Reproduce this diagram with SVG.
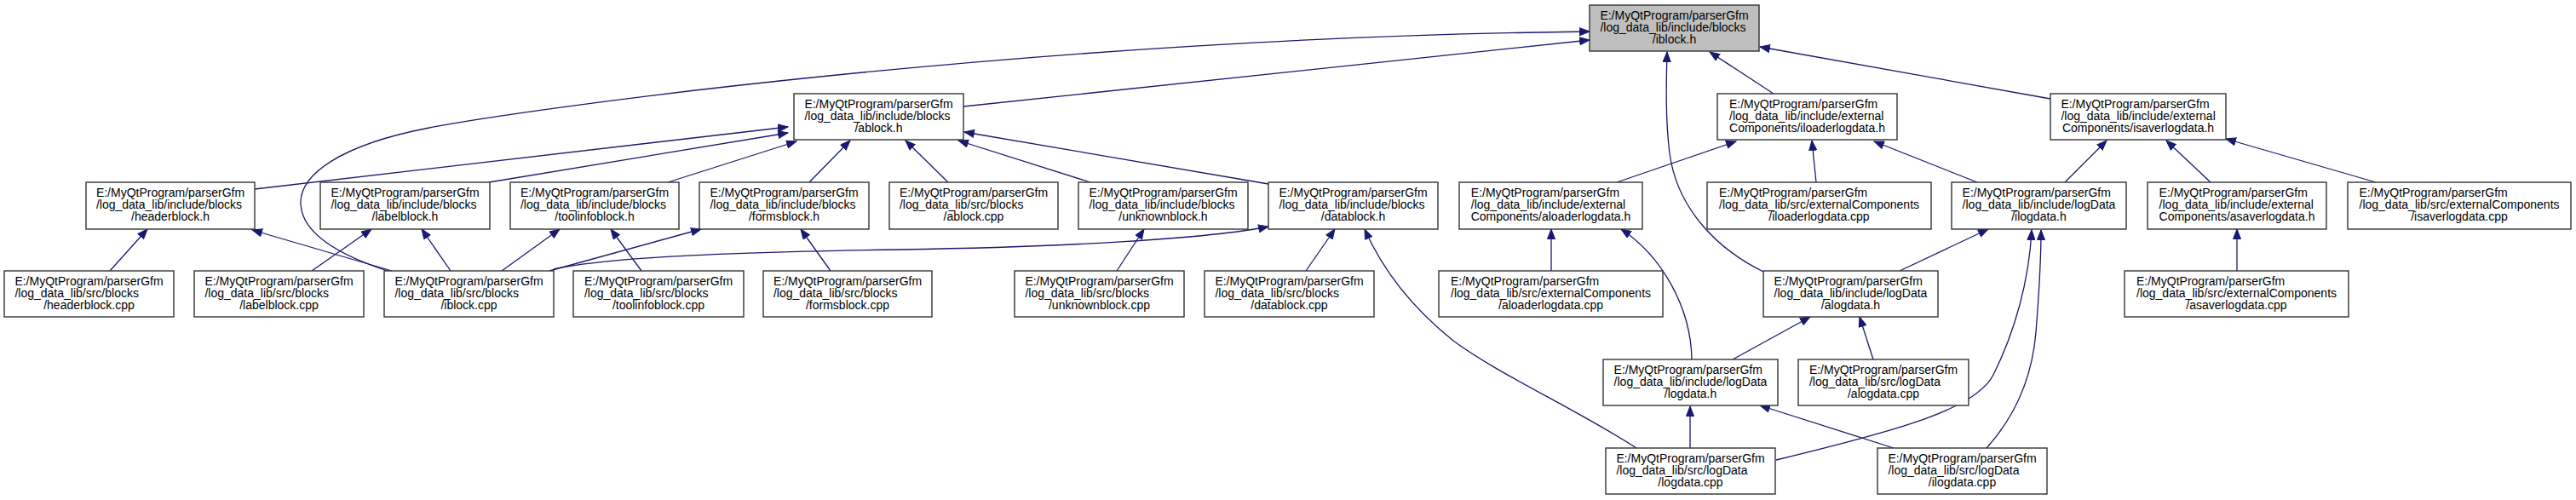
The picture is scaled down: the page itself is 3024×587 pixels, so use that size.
<svg xmlns="http://www.w3.org/2000/svg" width="3024" height="587" viewBox="0 0 3024 587">
<defs>
<style>
.n rect{fill:#ffffff;stroke:#333333;stroke-width:1.4}
.root rect{fill:#bfbfbf}
.n text{font-family:"Liberation Sans",Arial,sans-serif;font-size:14px;fill:#000000}
.c{text-anchor:middle}
#edges path{fill:none;stroke:#191970;stroke-width:1.3;marker-end:url(#ah)}
</style>
<marker id="ah" markerWidth="13" markerHeight="10" refX="12" refY="5" orient="auto" markerUnits="userSpaceOnUse"><path d="M0.5,0.5 L12,5 L0.5,9.5 z" fill="#191970" stroke="#191970" stroke-width="1"/></marker>
</defs>
<rect width="3024" height="587" fill="#ffffff"/>
<g id="edges">
<path d="M1131,125 L1866,47"/>
<path d="M455,318 C400,300 355,275 353,240 C351,205 400,170 504,150 C604,130 1200,45 1866,37"/>
<path d="M2082,110 L2007,61"/>
<path d="M2407,116 L2066,55"/>
<path d="M2072,320 C2010,290 1968,240 1960,180 C1955,140 1956,100 1957,61"/>
<path d="M645,318 L823,269"/>
<path d="M650,316 C700,305 800,297 1057,293 C1250,290 1420,280 1489,266"/>
<path d="M129,318 L173,269"/>
<path d="M460,318 L296,270"/>
<path d="M366,318 L436,269"/>
<path d="M529,318 L495,269"/>
<path d="M589,318 L657,269"/>
<path d="M753,318 L717,269"/>
<path d="M975,318 L940,269"/>
<path d="M1311,318 L1343,269"/>
<path d="M1533,318 L1567,269"/>
<path d="M1921,526 C1850,480 1760,440 1706,400 C1650,355 1620,310 1602,269"/>
<path d="M1489,216 L1132,155"/>
<path d="M1280,214 L1125,165"/>
<path d="M1113,214 L1063,165"/>
<path d="M950,214 L998,165"/>
<path d="M784,214 L935,166"/>
<path d="M574,214 L925,156"/>
<path d="M299,222 L925,149"/>
<path d="M1898,214 L2038,166"/>
<path d="M2132,214 L2127,165"/>
<path d="M2321,214 L2200,166"/>
<path d="M2424,214 L2473,165"/>
<path d="M2595,214 L2543,165"/>
<path d="M2789,214 L2613,163"/>
<path d="M1821,318 L1821,269"/>
<path d="M1986,422 C1985,360 1950,300 1903,269"/>
<path d="M2230,318 L2334,269"/>
<path d="M2085,540 C2230,505 2320,480 2340,440 C2365,390 2382,330 2385,270"/>
<path d="M2332,526 C2360,495 2385,450 2390,390 C2394,340 2396,300 2396,270"/>
<path d="M2034,422 L2125,372"/>
<path d="M2199,422 L2183,372"/>
<path d="M1984,526 L1984,477"/>
<path d="M2223,526 L2066,476"/>
<path d="M2626,318 L2626,269"/>
</g>
<g id="iblock_h" class="n root"><rect x="1866" y="6" width="199" height="54"/><text><tspan x="1878.4" y="22.5">E:/MyQtProgram/parserGfm</tspan><tspan x="1878.4" y="36.5">/log_data_lib/include/blocks</tspan><tspan class="c" x="1965.5" y="50.5">/iblock.h</tspan></text></g>
<g id="ablock_h" class="n"><rect x="932" y="110" width="199" height="54"/><text><tspan x="944.4" y="126.5">E:/MyQtProgram/parserGfm</tspan><tspan x="944.4" y="140.5">/log_data_lib/include/blocks</tspan><tspan class="c" x="1031.5" y="154.5">/ablock.h</tspan></text></g>
<g id="iloaderlogdata_h" class="n"><rect x="2016" y="110" width="211" height="54"/><text><tspan x="2030" y="126.5">E:/MyQtProgram/parserGfm</tspan><tspan x="2030" y="140.5">/log_data_lib/include/external</tspan><tspan class="c" x="2121.5" y="154.5">Components/iloaderlogdata.h</tspan></text></g>
<g id="isaverlogdata_h" class="n"><rect x="2407" y="110" width="206" height="54"/><text><tspan x="2419.4" y="126.5">E:/MyQtProgram/parserGfm</tspan><tspan x="2419.4" y="140.5">/log_data_lib/include/external</tspan><tspan class="c" x="2510" y="154.5">Components/isaverlogdata.h</tspan></text></g>
<g id="headerblock_h" class="n"><rect x="101" y="214" width="198" height="55"/><text><tspan x="112.9" y="230.5">E:/MyQtProgram/parserGfm</tspan><tspan x="112.9" y="244.5">/log_data_lib/include/blocks</tspan><tspan class="c" x="200" y="258.5">/headerblock.h</tspan></text></g>
<g id="labelblock_h" class="n"><rect x="376" y="214" width="199" height="55"/><text><tspan x="388.4" y="230.5">E:/MyQtProgram/parserGfm</tspan><tspan x="388.4" y="244.5">/log_data_lib/include/blocks</tspan><tspan class="c" x="475.5" y="258.5">/labelblock.h</tspan></text></g>
<g id="toolinfoblock_h" class="n"><rect x="599" y="214" width="198" height="55"/><text><tspan x="610.9" y="230.5">E:/MyQtProgram/parserGfm</tspan><tspan x="610.9" y="244.5">/log_data_lib/include/blocks</tspan><tspan class="c" x="698" y="258.5">/toolinfoblock.h</tspan></text></g>
<g id="formsblock_h" class="n"><rect x="821" y="214" width="199" height="55"/><text><tspan x="833.4" y="230.5">E:/MyQtProgram/parserGfm</tspan><tspan x="833.4" y="244.5">/log_data_lib/include/blocks</tspan><tspan class="c" x="920.5" y="258.5">/formsblock.h</tspan></text></g>
<g id="ablock_cpp" class="n"><rect x="1044" y="214" width="198" height="55"/><text><tspan x="1055.9" y="230.5">E:/MyQtProgram/parserGfm</tspan><tspan x="1055.9" y="244.5">/log_data_lib/src/blocks</tspan><tspan class="c" x="1143" y="258.5">/ablock.cpp</tspan></text></g>
<g id="unknownblock_h" class="n"><rect x="1266" y="214" width="199" height="55"/><text><tspan x="1278.4" y="230.5">E:/MyQtProgram/parserGfm</tspan><tspan x="1278.4" y="244.5">/log_data_lib/include/blocks</tspan><tspan class="c" x="1365.5" y="258.5">/unknownblock.h</tspan></text></g>
<g id="datablock_h" class="n"><rect x="1489" y="214" width="199" height="55"/><text><tspan x="1501.4" y="230.5">E:/MyQtProgram/parserGfm</tspan><tspan x="1501.4" y="244.5">/log_data_lib/include/blocks</tspan><tspan class="c" x="1588.5" y="258.5">/datablock.h</tspan></text></g>
<g id="aloaderlogdata_h" class="n"><rect x="1713" y="214" width="215" height="55"/><text><tspan x="1726.8" y="230.5">E:/MyQtProgram/parserGfm</tspan><tspan x="1726.8" y="244.5">/log_data_lib/include/external</tspan><tspan class="c" x="1820.5" y="258.5">Components/aloaderlogdata.h</tspan></text></g>
<g id="iloaderlogdata_cpp" class="n"><rect x="2004" y="214" width="263" height="55"/><text><tspan x="2018" y="230.5">E:/MyQtProgram/parserGfm</tspan><tspan x="2018" y="244.5">/log_data_lib/src/externalComponents</tspan><tspan class="c" x="2135.5" y="258.5">/iloaderlogdata.cpp</tspan></text></g>
<g id="ilogdata_h" class="n"><rect x="2291" y="214" width="205" height="55"/><text><tspan x="2303.6" y="230.5">E:/MyQtProgram/parserGfm</tspan><tspan x="2303.6" y="244.5">/log_data_lib/include/logData</tspan><tspan class="c" x="2393.5" y="258.5">/ilogdata.h</tspan></text></g>
<g id="asaverlogdata_h" class="n"><rect x="2521" y="214" width="210" height="55"/><text><tspan x="2534.6" y="230.5">E:/MyQtProgram/parserGfm</tspan><tspan x="2534.6" y="244.5">/log_data_lib/include/external</tspan><tspan class="c" x="2626" y="258.5">Components/asaverlogdata.h</tspan></text></g>
<g id="isaverlogdata_cpp" class="n"><rect x="2756" y="214" width="262" height="55"/><text><tspan x="2769.5" y="230.5">E:/MyQtProgram/parserGfm</tspan><tspan x="2769.5" y="244.5">/log_data_lib/src/externalComponents</tspan><tspan class="c" x="2887" y="258.5">/isaverlogdata.cpp</tspan></text></g>
<g id="headerblock_cpp" class="n"><rect x="5" y="318" width="199" height="54"/><text><tspan x="17.4" y="334.5">E:/MyQtProgram/parserGfm</tspan><tspan x="17.4" y="348.5">/log_data_lib/src/blocks</tspan><tspan class="c" x="104.5" y="362.5">/headerblock.cpp</tspan></text></g>
<g id="labelblock_cpp" class="n"><rect x="228" y="318" width="199" height="54"/><text><tspan x="240.4" y="334.5">E:/MyQtProgram/parserGfm</tspan><tspan x="240.4" y="348.5">/log_data_lib/src/blocks</tspan><tspan class="c" x="327.5" y="362.5">/labelblock.cpp</tspan></text></g>
<g id="iblock_cpp" class="n"><rect x="451" y="318" width="199" height="54"/><text><tspan x="463.4" y="334.5">E:/MyQtProgram/parserGfm</tspan><tspan x="463.4" y="348.5">/log_data_lib/src/blocks</tspan><tspan class="c" x="550.5" y="362.5">/iblock.cpp</tspan></text></g>
<g id="toolinfoblock_cpp" class="n"><rect x="673" y="318" width="200" height="54"/><text><tspan x="685.9" y="334.5">E:/MyQtProgram/parserGfm</tspan><tspan x="685.9" y="348.5">/log_data_lib/src/blocks</tspan><tspan class="c" x="773" y="362.5">/toolinfoblock.cpp</tspan></text></g>
<g id="formsblock_cpp" class="n"><rect x="896" y="318" width="198" height="54"/><text><tspan x="907.9" y="334.5">E:/MyQtProgram/parserGfm</tspan><tspan x="907.9" y="348.5">/log_data_lib/src/blocks</tspan><tspan class="c" x="995" y="362.5">/formsblock.cpp</tspan></text></g>
<g id="unknownblock_cpp" class="n"><rect x="1191" y="318" width="199" height="54"/><text><tspan x="1203.4" y="334.5">E:/MyQtProgram/parserGfm</tspan><tspan x="1203.4" y="348.5">/log_data_lib/src/blocks</tspan><tspan class="c" x="1290.5" y="362.5">/unknownblock.cpp</tspan></text></g>
<g id="datablock_cpp" class="n"><rect x="1414" y="318" width="199" height="54"/><text><tspan x="1426.4" y="334.5">E:/MyQtProgram/parserGfm</tspan><tspan x="1426.4" y="348.5">/log_data_lib/src/blocks</tspan><tspan class="c" x="1513.5" y="362.5">/datablock.cpp</tspan></text></g>
<g id="aloaderlogdata_cpp" class="n"><rect x="1689" y="318" width="263" height="54"/><text><tspan x="1703" y="334.5">E:/MyQtProgram/parserGfm</tspan><tspan x="1703" y="348.5">/log_data_lib/src/externalComponents</tspan><tspan class="c" x="1820.5" y="362.5">/aloaderlogdata.cpp</tspan></text></g>
<g id="alogdata_h" class="n"><rect x="2070" y="318" width="205" height="54"/><text><tspan x="2082.6" y="334.5">E:/MyQtProgram/parserGfm</tspan><tspan x="2082.6" y="348.5">/log_data_lib/include/logData</tspan><tspan class="c" x="2172.5" y="362.5">/alogdata.h</tspan></text></g>
<g id="asaverlogdata_cpp" class="n"><rect x="2494" y="318" width="263" height="54"/><text><tspan x="2508" y="334.5">E:/MyQtProgram/parserGfm</tspan><tspan x="2508" y="348.5">/log_data_lib/src/externalComponents</tspan><tspan class="c" x="2625.5" y="362.5">/asaverlogdata.cpp</tspan></text></g>
<g id="logdata_h" class="n"><rect x="1882" y="422" width="205" height="54"/><text><tspan x="1894.6" y="438.5">E:/MyQtProgram/parserGfm</tspan><tspan x="1894.6" y="452.5">/log_data_lib/include/logData</tspan><tspan class="c" x="1984.5" y="466.5">/logdata.h</tspan></text></g>
<g id="alogdata_cpp" class="n"><rect x="2111" y="422" width="200" height="54"/><text><tspan x="2123.9" y="438.5">E:/MyQtProgram/parserGfm</tspan><tspan x="2123.9" y="452.5">/log_data_lib/src/logData</tspan><tspan class="c" x="2211" y="466.5">/alogdata.cpp</tspan></text></g>
<g id="logdata_cpp" class="n"><rect x="1885" y="526" width="199" height="54"/><text><tspan x="1897.4" y="542.5">E:/MyQtProgram/parserGfm</tspan><tspan x="1897.4" y="556.5">/log_data_lib/src/logData</tspan><tspan class="c" x="1984.5" y="570.5">/logdata.cpp</tspan></text></g>
<g id="ilogdata_cpp" class="n"><rect x="2204" y="526" width="199" height="54"/><text><tspan x="2216.4" y="542.5">E:/MyQtProgram/parserGfm</tspan><tspan x="2216.4" y="556.5">/log_data_lib/src/logData</tspan><tspan class="c" x="2303.5" y="570.5">/ilogdata.cpp</tspan></text></g>
</svg>
